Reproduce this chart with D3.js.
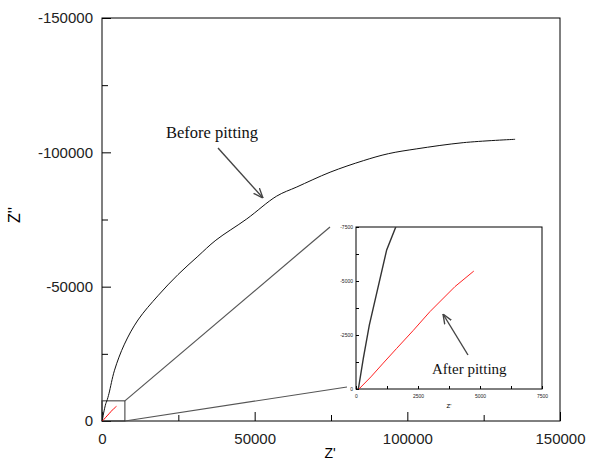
<!DOCTYPE html>
<html>
  <head>
    <meta charset="UTF-8" />
    <script src="https://d3js.org/d3.v7.min.js"></script>
    <style>
      body { margin: 0; background: #fff; }
      svg { display: block; }
    </style>
  </head>
  <body>
    <div id="chart"></div>
    <script>
      ///////////////////////data///////////////////////////////
      // Z' (real) and Z'' (imaginary, negative up)
      const beforeZre = [95, 295, 537, 1237, 1600, 2300, 4100, 7350, 11790, 18300, 24900, 31400, 37300, 47400, 57200, 63800, 74700, 85600, 93800, 103100, 118300, 135300];
      const beforeZim = [0, -1420, -2960, -6440, -7490, -10300, -18900, -28600, -37600, -46600, -54500, -61300, -67300, -75200, -83700, -87100, -92600, -96900, -99500, -101300, -103600, -104850];

      const afterZre = [120, 600, 1100, 1640, 2300, 2980, 3450, 3990, 4750];
      const afterZim = [0, -560, -1200, -1880, -2700, -3580, -4120, -4740, -5460];

      const mainMajor = [0, 50000, 100000, 150000];
      const mainMinor = [25000, 75000, 125000];
      const mainYMajor = [0, -50000, -100000, -150000];
      const mainYMinor = [-25000, -75000, -125000];

      const insetMajor = [0, 2500, 5000, 7500];
      const insetMinor = [1250, 3750, 6250];
      const insetYMajor = [0, -2500, -5000, -7500];
      const insetYMinor = [-1250, -3750, -6250];

      const before = beforeZre.map((d, i) => ({ x: d, y: beforeZim[i] }));
      const after = afterZre.map((d, i) => ({ x: d, y: afterZim[i] }));

      ///////////////////////chart///////////////////////////////
      const W = 589, H = 461;
      const svg = d3.select("#chart").append("svg").attr("width", W).attr("height", H);

      const x = d3.scaleLinear([0, 150000], [102, 560]);
      const y = d3.scaleLinear([0, -150000], [421, 18]);

      const sans = "'Liberation Sans', Arial, sans-serif";
      const serif = "'Liberation Serif', 'Times New Roman', serif";

      function styleAxis(g, size) {
        g.select(".domain").remove();
        g.selectAll("line").attr("stroke", "#000");
        g.selectAll("text").attr("font-family", sans).attr("font-size", size).attr("fill", "#222");
      }

      // minor ticks
      svg.append("g").attr("transform", "translate(0,421)")
        .call(d3.axisBottom(x).tickValues(mainMinor).tickSize(-6).tickFormat(""))
        .call((g) => styleAxis(g, 15));
      svg.append("g").attr("transform", "translate(102,0)")
        .call(d3.axisLeft(y).tickValues(mainYMinor).tickSize(-6).tickFormat(""))
        .call((g) => styleAxis(g, 15));
      // major ticks
      svg.append("g").attr("transform", "translate(0,421)")
        .call(d3.axisBottom(x).tickValues(mainMajor).tickSize(-9).tickPadding(12).tickFormat((d) => String(d)))
        .call((g) => styleAxis(g, 15));
      svg.append("g").attr("transform", "translate(102,0)")
        .call(d3.axisLeft(y).tickValues(mainYMajor).tickSize(-9).tickPadding(9).tickFormat((d) => String(d)))
        .call((g) => styleAxis(g, 15));

      svg.append("rect")
        .attr("x", x(0)).attr("y", y(-150000))
        .attr("width", x(150000) - x(0)).attr("height", y(0) - y(-150000))
        .attr("fill", "none").attr("stroke", "#000").attr("stroke-width", 1);

      // axis titles
      svg.append("text").attr("x", (x(0) + x(150000)) / 2 - 1).attr("y", 458)
        .attr("text-anchor", "middle").attr("font-family", sans).attr("font-size", 14).text("Z'");
      svg.append("text").attr("transform", "translate(20,215) rotate(-90)")
        .attr("text-anchor", "middle").attr("font-family", sans).attr("font-size", 16).text("Z''");

      const line = (sx, sy) => d3.line().curve(d3.curveCatmullRom.alpha(0.5)).x((d) => sx(d.x)).y((d) => sy(d.y));

      // zoom box in main plot
      svg.append("rect")
        .attr("x", x(0)).attr("y", y(-7500))
        .attr("width", x(7500) - x(0)).attr("height", y(0) - y(-7500))
        .attr("fill", "none").attr("stroke", "#333").attr("stroke-width", 1);

      svg.append("path").datum(before).attr("d", line(x, y))
        .attr("fill", "none").attr("stroke", "#111").attr("stroke-width", 1);
      svg.append("path").datum(after).attr("d", line(x, y))
        .attr("fill", "none").attr("stroke", "#f00").attr("stroke-width", 1);

      ///////////////////////inset///////////////////////////////
      const ix = d3.scaleLinear([0, 7500], [356, 542]);
      const iy = d3.scaleLinear([0, -7500], [389, 227]);

      // connector lines
      svg.append("line")
        .attr("x1", x(7500)).attr("y1", y(-7500))
        .attr("x2", ix(0) - 26).attr("y2", iy(-7500))
        .attr("stroke", "#555").attr("stroke-width", 1.2);
      svg.append("line")
        .attr("x1", x(7500)).attr("y1", y(0))
        .attr("x2", ix(0) - 9).attr("y2", iy(0) - 2)
        .attr("stroke", "#555").attr("stroke-width", 1.2);

      const inset = svg.append("g");
      inset.append("rect")
        .attr("x", ix(0)).attr("y", iy(-7500))
        .attr("width", ix(7500) - ix(0)).attr("height", iy(0) - iy(-7500))
        .attr("fill", "#fff").attr("stroke", "#000").attr("stroke-width", 1);

      inset.append("g").attr("transform", `translate(0,${iy(0)})`)
        .call(d3.axisBottom(ix).tickValues(insetMajor.concat(insetMinor)).tickSize(-3).tickPadding(5)
          .tickFormat((d) => (insetMajor.includes(d) ? String(d) : "")))
        .call((g) => styleAxis(g, 5));
      inset.append("g").attr("transform", `translate(${ix(0)},0)`)
        .call(d3.axisLeft(iy).tickValues(insetYMajor.concat(insetYMinor)).tickSize(-3).tickPadding(3)
          .tickFormat((d) => (insetYMajor.includes(d) ? String(d) : "")))
        .call((g) => styleAxis(g, 5));

      inset.append("text").attr("x", (ix(0) + ix(7500)) / 2).attr("y", 408)
        .attr("text-anchor", "middle").attr("font-family", sans).attr("font-size", 6).text("Z'");

      svg.append("clipPath").attr("id", "iclip").append("rect")
        .attr("x", ix(0)).attr("y", iy(-7500))
        .attr("width", ix(7500) - ix(0)).attr("height", iy(0) - iy(-7500));

      const lineStraight = (sx, sy) => d3.line().x((d) => sx(d.x)).y((d) => sy(d.y));
      const ig = inset.append("g").attr("clip-path", "url(#iclip)");
      ig.append("path").datum(before).attr("d", lineStraight(ix, iy))
        .attr("fill", "none").attr("stroke", "#333").attr("stroke-width", 1.4);
      ig.append("path").datum(after).attr("d", lineStraight(ix, iy))
        .attr("fill", "none").attr("stroke", "#f22").attr("stroke-width", 1);

      ///////////////////////annotations///////////////////////////////
      svg.append("defs").append("marker")
        .attr("id", "arr").attr("viewBox", "0 0 10 10").attr("refX", 10).attr("refY", 5)
        .attr("markerWidth", 7).attr("markerHeight", 7).attr("orient", "auto")
        .append("path").attr("d", "M0,1 L10,5 L0,9").attr("fill", "none")
        .attr("stroke", "#444").attr("stroke-width", 1.4);

      const beforeNote = { tx: 20960, ty: -105330, ax1: 37990, ay1: -101610, ax2: 52730, ay2: -83000 };
      const afterNote = { tx: 3064, ty: -694, ax1: 4516, ay1: -1574, ax2: 3508, ay2: -3472 };

      svg.append("text").attr("x", x(beforeNote.tx)).attr("y", y(beforeNote.ty))
        .attr("font-family", serif).attr("font-size", 16.5).attr("fill", "#111").text("Before pitting");
      svg.append("line")
        .attr("x1", x(beforeNote.ax1)).attr("y1", y(beforeNote.ay1))
        .attr("x2", x(beforeNote.ax2)).attr("y2", y(beforeNote.ay2))
        .attr("stroke", "#444").attr("stroke-width", 1.4).attr("marker-end", "url(#arr)");

      svg.append("text").attr("x", ix(afterNote.tx)).attr("y", iy(afterNote.ty))
        .attr("font-family", serif).attr("font-size", 15).attr("fill", "#111").text("After pitting");
      svg.append("line")
        .attr("x1", ix(afterNote.ax1)).attr("y1", iy(afterNote.ay1))
        .attr("x2", ix(afterNote.ax2)).attr("y2", iy(afterNote.ay2))
        .attr("stroke", "#444").attr("stroke-width", 1.4).attr("marker-end", "url(#arr)");
    </script>
  </body>
</html>
